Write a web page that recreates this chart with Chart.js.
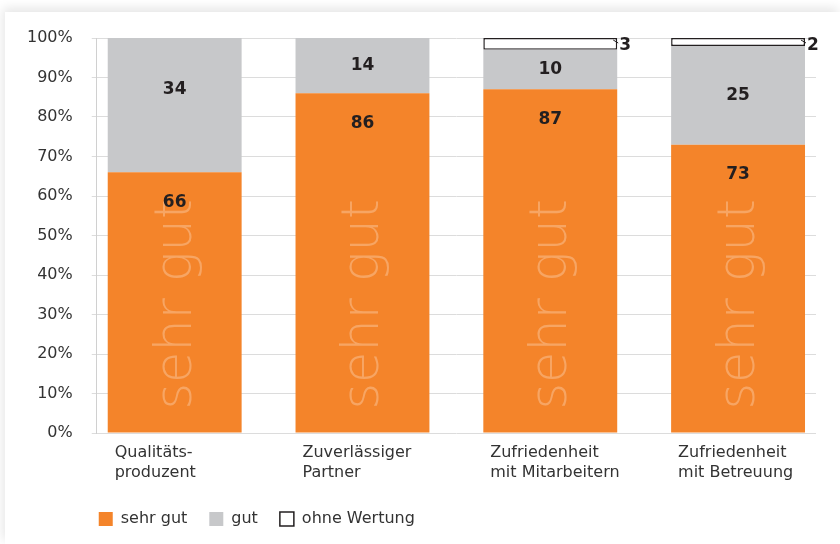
<!DOCTYPE html>
<html>
<head>
<meta charset="utf-8">
<script src="https://cdn.jsdelivr.net/npm/chart.js@4"></script>
<style>
  body { margin: 0; background: #fff; }
  #sheet { position: absolute; left: 5px; top: 12px; width: 835px; height: 532px; background: #fff; box-shadow: -2px -4px 10px rgba(0, 0, 0, 0.10); }
  #wrap { position: absolute; left: 0; top: 0; width: 840px; height: 544px; }
</style>
</head>
<body>
<div id="sheet"></div>
<div id="wrap"><canvas id="chart"></canvas></div>
<script>
var categories = [['Qualitäts-', 'produzent'], ['Zuverlässiger', 'Partner'], ['Zufriedenheit', 'mit Mitarbeitern'], ['Zufriedenheit', 'mit Betreuung']];
var sehrGut = [66, 86, 87, 73];
var gut = [34, 14, 10, 25];
var ohneWertung = [0, 0, 3, 2];
var yTicks = [0, 10, 20, 30, 40, 50, 60, 70, 80, 90, 100];

var ORANGE = '#F4842A';
var GREY = '#C7C8CA';
var INK = '#231F20';

function points(values) {
    return values.map(function (v, i) { return { x: i, y: v }; });
}

// watermark "sehr gut" + value labels
var barLabels = {
    id: 'barLabels',
    afterDatasetsDraw: function (chart) {
        var c = chart.ctx;
        var orange = chart.getDatasetMeta(0);
        c.save();
        c.fillStyle = 'rgba(255,255,255,0.27)';
        c.font = '200 51px "DejaVu Sans"';
        c.textAlign = 'left';
        c.textBaseline = 'alphabetic';
        orange.data.forEach(function (bar) {
            c.save();
            c.translate(bar.x + 16, bar.base - 23);
            c.rotate(-Math.PI / 2);
            c.fillText(chart.data.datasets[0].label, 0, 0);
            c.restore();
        });

        c.fillStyle = INK;
        c.font = 'bold 17px "DejaVu Sans"';
        c.textAlign = 'center';
        c.textBaseline = 'middle';
        orange.data.forEach(function (bar, i) {
            c.fillText(sehrGut[i], bar.x, bar.y + 30);
        });
        chart.getDatasetMeta(1).data.forEach(function (bar, i) {
            c.fillText(gut[i], bar.x, Math.min((bar.y + bar.base) / 2, bar.y + 52));
        });
        c.textAlign = 'left';
        c.strokeStyle = INK;
        c.lineWidth = 1;
        chart.getDatasetMeta(2).data.forEach(function (bar, i) {
            if (!ohneWertung[i]) return;
            var right = bar.x + bar.width / 2;
            c.beginPath();
            c.moveTo(right - 4, bar.y + 2);
            c.lineTo(right + 1, bar.y + 5);
            c.stroke();
            c.fillText(ohneWertung[i], right + 2, bar.y + 8);
        });
        c.restore();
    }
};

// legend starts under the y axis
var legendShift = {
    id: 'legendShift',
    afterLayout: function (chart) {
        var lg = chart.legend;
        lg.left = chart.chartArea.left + 2 - lg.options.labels.padding;
    }
};

Chart.defaults.font.family = '"DejaVu Sans", sans-serif';

var ctx = document.getElementById('chart').getContext('2d');
var myChart = new Chart(ctx, {
    type: 'bar',
    data: {
        datasets: [
            { label: 'sehr gut', backgroundColor: ORANGE, borderWidth: 0, data: points(sehrGut) },
            { label: 'gut', backgroundColor: GREY, borderWidth: 0, data: points(gut) },
            { label: 'ohne Wertung', backgroundColor: '#fff', borderColor: INK, borderWidth: 1.5, borderSkipped: false, data: points(ohneWertung) }
        ]
    },
    options: {
        animation: false,
        responsive: true,
        maintainAspectRatio: false,
        categoryPercentage: 1,
        barPercentage: 0.713,
        layout: { padding: { left: 8, right: 24, top: 38, bottom: 7 } },
        plugins: {
            tooltip: { enabled: false },
            legend: {
                position: 'bottom',
                align: 'start',
                fullSize: false,
                labels: {
                    boxWidth: 14,
                    boxHeight: 14,
                    padding: 22,
                    color: '#333',
                    font: { size: 16 }
                }
            }
        },
        scales: {
            x: {
                type: 'linear',
                offset: false,
                stacked: true,
                min: -0.415,
                max: 3.415,
                afterBuildTicks: function (s) {
                    s.ticks = categories.map(function (_, i) { return { value: i }; });
                },
                afterFit: function (s) {
                    s.height += 4;
                    s.paddingLeft = 0;
                    s.paddingRight = 0;
                },
                grid: { display: false },
                border: { display: false },
                ticks: {
                    callback: function (v) { return categories[v]; },
                    align: 'start',
                    labelOffset: -60,
                    padding: 2,
                    maxRotation: 0,
                    autoSkip: false,
                    color: '#333',
                    font: { size: 16, lineHeight: 1.25 }
                }
            },
            y: {
                stacked: true,
                min: 0,
                max: 100,
                afterBuildTicks: function (s) {
                    s.ticks = yTicks.map(function (v) { return { value: v }; });
                },
                grid: { color: '#DCDCDC', tickLength: 5 },
                border: { color: '#D0D0D0' },
                ticks: {
                    callback: function (v) { return v + '%'; },
                    padding: 19,
                    color: '#333',
                    font: { size: 16 }
                }
            }
        }
    },
    plugins: [barLabels, legendShift]
});
</script>
</body>
</html>
